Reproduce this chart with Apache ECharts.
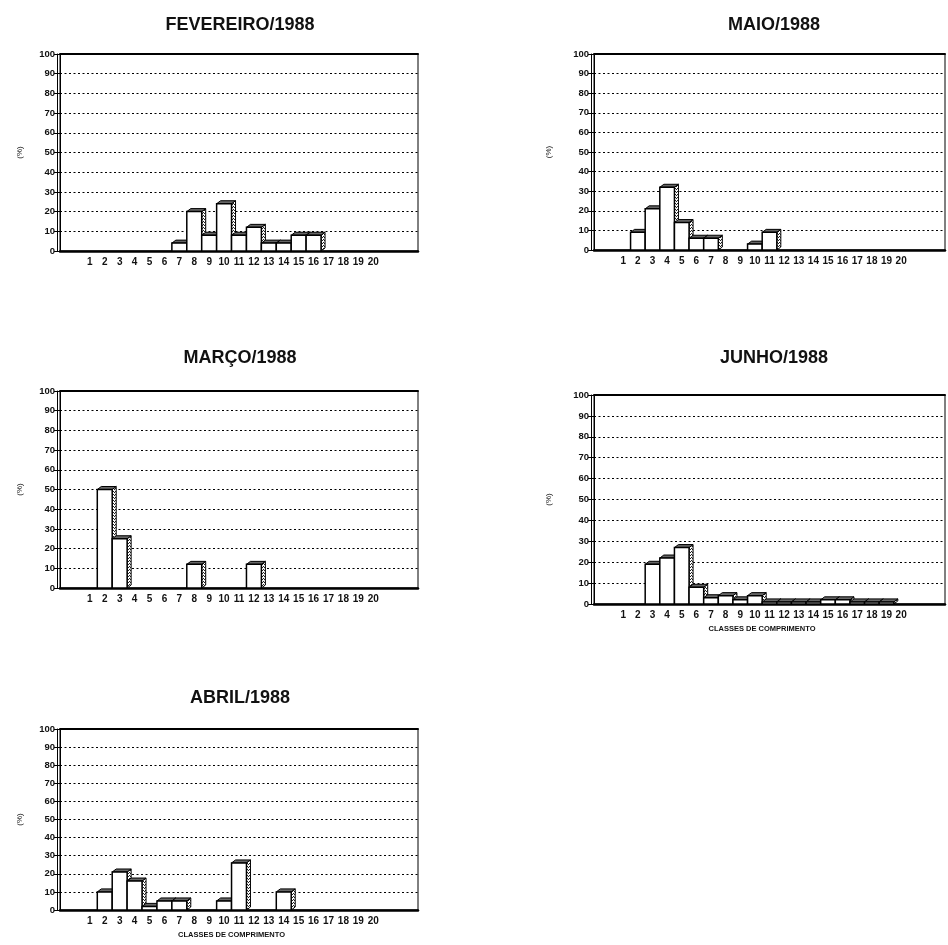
<!DOCTYPE html>
<html>
<head>
<meta charset="utf-8">
<script src="https://cdn.jsdelivr.net/npm/echarts@6/dist/echarts.min.js"></script>
<style>
  html, body { margin: 0; padding: 0; background: #fff; }
  #chart { width: 948px; height: 945px; }
</style>
</head>
<body>
<div id="chart"></div>
<script>
// Length classes (x axis) and monthly frequency (%) per class
const classes = [1, 2, 3, 4, 5, 6, 7, 8, 9, 10, 11, 12, 13, 14, 15, 16, 17, 18, 19, 20];
const fevereiro = [0, 0, 0, 0, 0, 0, 4, 20, 8, 24, 8, 12, 4, 4, 8, 8, 0, 0, 0, 0];
const maio      = [0, 9, 21, 32, 14, 6, 6, 0, 0, 3, 9, 0, 0, 0, 0, 0, 0, 0, 0, 0];
const marco     = [0, 50, 25, 0, 0, 0, 0, 12, 0, 0, 0, 12, 0, 0, 0, 0, 0, 0, 0, 0];
const junho     = [0, 0, 19, 22, 27, 8, 3, 4, 2, 4, 1, 1, 1, 1, 2, 2, 1, 1, 1, 0];
const abril     = [0, 10, 21, 16, 2, 5, 5, 0, 0, 5, 26, 0, 0, 10, 0, 0, 0, 0, 0, 0];
const yTicks = [0, 10, 20, 30, 40, 50, 60, 70, 80, 90, 100];
const titles = ['FEVEREIRO/1988', 'MAIO/1988', 'MARÇO/1988', 'JUNHO/1988', 'ABRIL/1988'];
const xName = 'CLASSES DE COMPRIMENTO';
const yName = '(%)';

// Panel layout (pixels): left edge, right offset, top (100 %) and bottom (0 %)
const panels = [
  { data: fevereiro, left: 60,  right: 530, top: 54,  bottom: 251, titleY: 20,  xTitle: false },
  { data: maio,      left: 594, right: -4,  top: 54,  bottom: 250, titleY: 20,  xTitle: false },
  { data: marco,     left: 60,  right: 530, top: 391, bottom: 588, titleY: 353, xTitle: false },
  { data: junho,     left: 594, right: -4,  top: 395, bottom: 604, titleY: 353, xTitle: true },
  { data: abril,     left: 60,  right: 530, top: 729, bottom: 910, titleY: 693, xTitle: true }
];

const FONT = '"Liberation Sans", Arial, sans-serif';
const H = 945;

// dotted fill for the shaded sides of the 3-D bars
const patCanvas = document.createElement('canvas');
patCanvas.width = 2; patCanvas.height = 3;
const pctx = patCanvas.getContext('2d');
pctx.fillStyle = '#fff'; pctx.fillRect(0, 0, 2, 3);
pctx.fillStyle = '#222'; pctx.fillRect(0, 0, 1, 1); pctx.fillRect(1, 2, 1, 1);
const sidePattern = { image: patCanvas, repeat: 'repeat' };

function renderBar(params, api) {
  const cls = api.value(0), v = api.value(1);
  if (!v) return;
  const pBase = api.coord([cls - 0.5, 0]);
  const pTop = api.coord([cls + 0.5, v]);
  const x0 = pBase[0], x1 = pTop[0], yb = pBase[1], yt = pTop[1];
  const dx = 4, dy = 3;
  return {
    type: 'group',
    children: [
      { type: 'polygon', shape: { points: [[x1, yb], [x1 + dx, yb - dy], [x1 + dx, yt - dy], [x1, yt]] },
        style: { fill: sidePattern, stroke: '#000', lineWidth: 1 } },
      { type: 'polygon', shape: { points: [[x0, yt], [x0 + dx, yt - dy], [x1 + dx, yt - dy], [x1, yt]] },
        style: { fill: '#666', stroke: '#000', lineWidth: 1 } },
      { type: 'rect', shape: { x: x0, y: yt, width: x1 - x0, height: yb - yt },
        style: { fill: '#fff', stroke: '#000', lineWidth: 1.5 } }
    ]
  };
}

const grid = [], xAxis = [], yAxis = [], series = [], title = [];
panels.forEach((p, i) => {
  grid.push({ left: p.left, right: p.right, top: p.top, bottom: H - p.bottom,
    show: true, borderColor: '#000', borderWidth: 1, backgroundColor: 'transparent' });
  title.push({ text: titles[i], left: (p.left < 300 ? 235 : 769), top: p.titleY, textAlign: 'center',
    textVerticalAlign: 'middle',
    textStyle: { fontFamily: FONT, fontSize: 18, fontWeight: 'bold', color: '#111' } });
  // bottom class axis
  xAxis.push({
    type: 'value', gridIndex: i, min: -1, max: 23, interval: 1,
    axisLine: { show: true, onZero: false, lineStyle: { color: '#000', width: 2.5 } },
    axisTick: { show: false },
    splitLine: { show: false },
    axisLabel: {
      fontFamily: FONT, fontSize: 10, fontWeight: 'bold', color: '#111', margin: 6,
      formatter: v => (classes.indexOf(v) >= 0 ? String(v) : '')
    },
    name: p.xTitle ? xName : '', nameLocation: 'middle', nameGap: 21,
    nameTextStyle: { fontFamily: FONT, fontSize: 7.5, fontWeight: 'bold', color: '#111', padding: [0, 15, 0, 0] }
  });
  // top frame line at 100 %
  xAxis.push({
    type: 'value', gridIndex: i, position: 'top', min: -1, max: 23,
    axisLine: { show: true, onZero: false, lineStyle: { color: '#000', width: 2 } },
    axisTick: { show: false }, axisLabel: { show: false }, splitLine: { show: false }
  });
  // outer left axis with labels and short outward ticks
  yAxis.push({
    type: 'value', gridIndex: i, position: 'left', min: 0, max: 100, interval: 10, offset: 3,
    axisLine: { show: true, onZero: false, lineStyle: { color: '#000', width: 1 } },
    axisTick: { show: true, length: 3, lineStyle: { color: '#000', width: 1 } },
    axisLabel: { fontFamily: FONT, fontSize: 9.5, fontWeight: 'bold', color: '#111', margin: 2,
      formatter: v => (yTicks.indexOf(v) >= 0 ? String(v) : '') },
    splitLine: { show: false },
    name: yName, nameLocation: 'middle', nameRotate: 90, nameGap: (p.left < 300 ? 33 : 38),
    nameTextStyle: { fontFamily: FONT, fontSize: 8, color: '#111' }
  });
  // inner wall line with ticks crossing the wall, plus the dotted grid lines
  yAxis.push({
    type: 'value', gridIndex: i, position: 'left', min: 0, max: 100, interval: 10, offset: 0,
    axisLine: { show: true, onZero: false, lineStyle: { color: '#000', width: 1 } },
    axisTick: { show: true, length: 4, lineStyle: { color: '#000', width: 1 } },
    axisLabel: { show: false },
    splitLine: { show: true, lineStyle: { color: '#000', width: 1, type: [2, 2.5] } }
  });
  series.push({
    type: 'custom', xAxisIndex: 2 * i, yAxisIndex: 2 * i,
    renderItem: renderBar,
    data: classes.map((c, k) => [c, p.data[k]]),
    clip: false, silent: true, z: 5
  });
});

const chart = echarts.init(document.getElementById('chart'), null, { renderer: 'canvas' });
chart.setOption({
  animation: false,
  backgroundColor: '#fff',
  title, grid, xAxis, yAxis, series
});
</script>
</body>
</html>
